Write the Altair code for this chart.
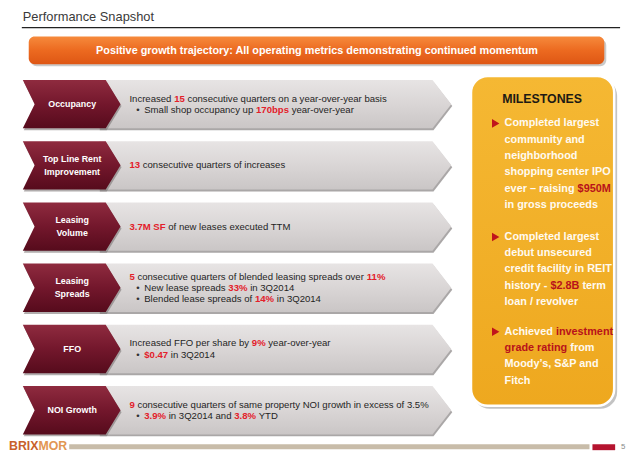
import altair as alt
import pandas as pd

# ------------------------------------------------------------------ content
title = "Performance Snapshot"
banner = "Positive growth trajectory: All operating metrics demonstrating continued momentum"

row_labels = [
    ["Occupancy"],
    ["Top Line Rent", "Improvement"],
    ["Leasing", "Volume"],
    ["Leasing", "Spreads"],
    ["FFO"],
    ["NOI Growth"],
]
# (is_bullet, [(segment text, highlighted)])
row_lines = [
    [(False, [("Increased ", 0), ("15", 1), (" consecutive quarters on a year-over-year basis", 0)]),
     (True, [("Small shop occupancy up ", 0), ("170bps", 1), (" year-over-year", 0)])],
    [(False, [("13", 1), (" consecutive quarters of increases", 0)])],
    [(False, [("3.7M SF", 1), (" of new leases executed TTM", 0)])],
    [(False, [("5", 1), (" consecutive quarters of blended leasing spreads over ", 0), ("11%", 1)]),
     (True, [("New lease spreads ", 0), ("33%", 1), (" in 3Q2014", 0)]),
     (True, [("Blended lease spreads of ", 0), ("14%", 1), (" in 3Q2014", 0)])],
    [(False, [("Increased FFO per share by ", 0), ("9%", 1), (" year-over-year", 0)]),
     (True, [("$0.47", 1), (" in 3Q2014", 0)])],
    [(False, [("9", 1), (" consecutive quarters of same property NOI growth in excess of 3.5%", 0)]),
     (True, [("3.9%", 1), (" in 3Q2014 and ", 0), ("3.8%", 1), (" YTD", 0)])],
]

milestone_title = "MILESTONES"
milestones = [
    [[("Completed largest", 0)], [("community and", 0)], [("neighborhood", 0)],
     [("shopping center IPO", 0)], [("ever \u2013 raising ", 0), ("$950M", 1)], [("in gross proceeds", 0)]],
    [[("Completed largest", 0)], [("debut unsecured", 0)], [("credit facility in REIT", 0)],
     [("history - ", 0), ("$2.8B", 1), (" term", 0)], [("loan / revolver", 0)]],
    [[("Achieved ", 0), ("investment", 1)], [("grade rating", 1), (" from", 0)],
     [("Moody\u2019s, S&P and", 0)], [("Fitch", 0)]],
]
milestone_block_top = [122, 237, 333]

brand = [("BRIX", "#c8602a"), ("MOR", "#e29652")]
page_number = "5"

# ------------------------------------------------------------------ metrics (Arial / Liberation Sans)
REG = dict(zip("abcdefghijklmnopqrstuvwxyz",
               [556, 556, 500, 556, 556, 278, 556, 556, 222, 222, 500, 222, 833, 556, 556, 556, 556, 333, 500, 278, 556, 500, 722, 500, 500, 500]))
REG.update(dict(zip("ABCDEFGHIJKLMNOPQRSTUVWXYZ",
                    [667, 667, 722, 722, 667, 611, 778, 722, 278, 500, 667, 556, 833, 722, 778, 667, 778, 722, 667, 611, 722, 667, 944, 667, 667, 611])))
REG.update({" ": 278, "%": 889, "$": 556, ".": 278, ",": 278, "-": 333, "/": 278, "&": 667, ":": 278,
            "\u2013": 556, "\u2019": 222, "\u2022": 350})
REG.update({d: 556 for d in "0123456789"})
BOLD = dict(zip("abcdefghijklmnopqrstuvwxyz",
                [556, 611, 556, 611, 556, 333, 611, 611, 278, 278, 556, 278, 889, 611, 611, 611, 611, 389, 556, 333, 611, 556, 778, 556, 556, 500]))
BOLD.update(dict(zip("ABCDEFGHIJKLMNOPQRSTUVWXYZ",
                     [722, 722, 722, 722, 667, 611, 778, 722, 278, 556, 722, 611, 833, 722, 778, 667, 778, 722, 667, 611, 722, 667, 944, 667, 667, 611])))
BOLD.update({" ": 278, "%": 889, "$": 556, ".": 278, ",": 278, "-": 333, "/": 278, "&": 722, ":": 333,
             "\u2013": 556, "\u2019": 278, "\u2022": 350})
BOLD.update({d: 556 for d in "0123456789"})


def tw(s, bold, size):
    m = BOLD if bold else REG
    return sum(m.get(c, 556) for c in s) / 1000.0 * size


def layout(segs, x0, y, size, base, hl, base_bold):
    out, x = [], x0
    for text, h in segs:
        bold = base_bold or bool(h)
        lead = len(text) - len(text.lstrip(" "))
        core = text.strip(" ")
        if core:
            out.append(dict(x=x + tw(" " * lead, bold, size), y=y, text=core,
                            color=hl if h else base, size=size, bold=bold))
        x += tw(text, bold, size)
    return out


# ------------------------------------------------------------------ layout
W, H = 627, 447
FONT = "Liberation Sans"
ROW_TOP, ROW_PITCH, ROW_H = 78, 62, 49
DESC_SIZE, DESC_LH = 9.7, 11.3
TEXT_X, BULLET_X, BULLET_TEXT_X = 131, 138, 146
LABEL_X, LABEL_SIZE, LABEL_LH = 73, 9, 13
MS_X, MS_ARROW_X, MS_SIZE, MS_LH = 511, 502, 11, 16.5

xs = alt.Scale(domain=[8, 8 + W], nice=False, zero=False)
ys = alt.Scale(domain=[8, 8 + H], nice=False, zero=False, reverse=True)


def X(f, **k):
    return alt.X(f, scale=xs, axis=None, **k)


def Y(f, **k):
    return alt.Y(f, scale=ys, axis=None, **k)


def grad(stops):
    return {"gradient": "linear", "x1": 0, "y1": 0, "x2": 0, "y2": 1,
            "stops": [{"offset": o, "color": c} for o, c in stops]}


def shape_df(left, right, dx=0, dy=0):
    recs = []
    for i in range(len(row_labels)):
        top = ROW_TOP + i * ROW_PITCH + dy
        for y, xl, xr in zip([top, top + ROW_H / 2, top + ROW_H], left, right):
            recs.append(dict(row=i, y=y, xa=xl + dx, xb=xr + dx))
    return pd.DataFrame(recs)


def area_layer(df, color, opacity=1.0):
    return alt.Chart(df).mark_area(orient="horizontal", color=color, opacity=opacity).encode(
        y=Y("y:Q"), x=X("xa:Q", stack=None), x2="xb:Q", detail="row:N")


def rect_layer(recs, **mk):
    return alt.Chart(pd.DataFrame(recs)).mark_rect(**mk).encode(
        x=X("x:Q"), x2="x2:Q", y=Y("y:Q"), y2="y2:Q")


layers = []

# title rule
layers.append(alt.Chart(pd.DataFrame([dict(x=22, x2=628, y=25)])).mark_rule(color="#222222", strokeWidth=1.2)
              .encode(x=X("x:Q"), x2="x2:Q", y=Y("y:Q")))

# banner
layers.append(rect_layer([dict(x=31, x2=614, y=37, y2=64)], color="#bdbdbd", cornerRadius=6, opacity=0.8))
layers.append(rect_layer([dict(x=29, x2=612, y=34, y2=62)], cornerRadius=6,
                         color=grad([(0, "#f68a3c"), (0.5, "#ec6a20"), (1, "#de5614")])))

# grey arrows + chevrons
gl, gr = (100, 100, 100), (438, 457, 438)
cl, cr = (23, 35, 23), (107, 122, 107)
layers.append(area_layer(shape_df(gl, gr, dx=1, dy=2), "#8e8a8a", 0.75))
layers.append(area_layer(shape_df(gl, gr), grad([(0, "#e7e4e4"), (0.55, "#d8d4d4"), (1, "#cac6c6")])))
layers.append(area_layer(shape_df(cl, cr, dx=1, dy=2), "#7d7777", 0.6))
layers.append(area_layer(shape_df(cl, cr), grad([(0, "#8f2b3f"), (0.5, "#73172c"), (1, "#560b1c")])))

# milestone box
layers.append(rect_layer([dict(x=479, x2=625, y=77, y2=411)], color="#a9a9a9", cornerRadius=17, opacity=0.7))
layers.append(rect_layer([dict(x=477, x2=622, y=74, y2=408)], cornerRadius=17, stroke="white", strokeWidth=2.5,
                         color=grad([(0, "#f5b833"), (1, "#eea81f")])))

# footer bars
layers.append(rect_layer([dict(x=70, x2=597, y=447, y2=452)], color="#c8bca9"))
layers.append(rect_layer([dict(x=600, x2=623, y=447, y2=453)], color="#b5142f"))

# ------------------------------------------------------------------ texts
reg_left, bold_left, bold_center = [], [], []

reg_left.append(dict(x=23, y=14, text=title, color="#3a3a3a", size=13))
bold_center.append(dict(x=321, y=48.5, text=banner, color="#ffffff", size=11))

for i, (labels, lines) in enumerate(zip(row_labels, row_lines)):
    mid = ROW_TOP + i * ROW_PITCH + ROW_H / 2
    for j, lab in enumerate(labels):
        bold_center.append(dict(x=LABEL_X, y=mid + (j - (len(labels) - 1) / 2) * LABEL_LH,
                                text=lab, color="#ffffff", size=LABEL_SIZE))
    for j, (bullet, segs) in enumerate(lines):
        y = mid + (j - (len(lines) - 1) / 2) * DESC_LH
        if bullet:
            reg_left.append(dict(x=BULLET_X, y=y, text="\u2022", color="#333333", size=DESC_SIZE))
            x0 = BULLET_TEXT_X
        else:
            x0 = TEXT_X
        for s in layout(segs, x0, y, DESC_SIZE, "#1f1f1f", "#e3202a", False):
            (bold_left if s["bold"] else reg_left).append(s)

bold_center.append(dict(x=549, y=97, text=milestone_title, color="#1e1a14", size=12.5))
arrows = []
for top, block in zip(milestone_block_top, milestones):
    arrows.append(dict(x=MS_ARROW_X, y=top))
    for j, segs in enumerate(block):
        for s in layout(segs, MS_X, top + j * MS_LH, MS_SIZE, "#fffaf0", "#b8121b", True):
            bold_left.append(s)

bx = 9
for t, c in brand:
    bold_left.append(dict(x=bx, y=449, text=t, color=c, size=12.5))
    bx += tw(t, True, 12.5)
reg_left.append(dict(x=629, y=450, text=page_number, color="#8a8a8a", size=8))

layers.append(alt.Chart(pd.DataFrame(arrows)).mark_point(shape="triangle-right", filled=True, opacity=1,
                                                          color="#c0141c", size=75)
              .encode(x=X("x:Q"), y=Y("y:Q")))


def text_layer(recs, align, weight):
    return alt.Chart(pd.DataFrame(recs)).mark_text(align=align, baseline="middle", font=FONT,
                                                   fontWeight=weight).encode(
        x=X("x:Q"), y=Y("y:Q"), text="text:N",
        color=alt.Color("color:N", scale=None), size=alt.Size("size:Q", scale=None))


layers.append(text_layer(reg_left, "left", "normal"))
layers.append(text_layer(bold_left, "left", "bold"))
layers.append(text_layer(bold_center, "center", "bold"))

chart = alt.layer(*layers).properties(
    width=W, height=H, padding=0, autosize=alt.AutoSizeParams(type="none"), background="white"
).configure_view(stroke=None)

chart.save("out.html", embed_options={"renderer": "svg", "actions": False})
